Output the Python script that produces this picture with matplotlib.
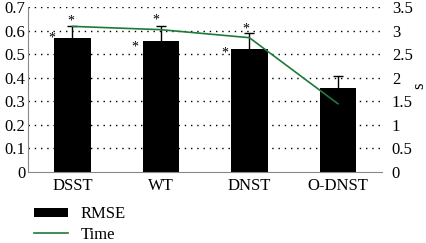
import numpy as np
import matplotlib.pyplot as plt

plt.rcParams["font.family"] = ["Liberation Serif", "DejaVu Serif"]

methods = ["DSST", "WT", "DNST", "O-DNST"]
rmse = [0.57, 0.556, 0.52, 0.355]
rmse_err = [0.05, 0.062, 0.068, 0.052]
time_s = [3.09, 3.02, 2.85, 1.45]

# significance stars: (category position, y value on left axis)
stars = [(-0.23, 0.57), (-0.02, 0.64), (0.71, 0.53), (0.94, 0.645), (1.72, 0.505), (1.955, 0.605)]

fig = plt.figure(figsize=(4.26, 2.43), dpi=100)
ax = fig.add_axes([0.066, 0.292, 0.831, 0.679])
x = np.arange(len(methods))

ax.set_ylim(0, 0.7)
ax.set_xlim(-0.5, len(methods) - 0.5)
ax.set_yticks(np.arange(0, 0.71, 0.1))
ax.set_yticklabels(["0", "0.1", "0.2", "0.3", "0.4", "0.5", "0.6", "0.7"])
for v in np.arange(0.1, 0.71, 0.1):
    ax.axhline(v, color="black", lw=1.0, ls=(0, (1, 3.5)), zorder=0)

ax.bar(x, rmse, width=0.41, color="black", zorder=2, label="RMSE")
ax.errorbar(x, rmse, yerr=rmse_err, fmt="none", ecolor="black", elinewidth=1.0,
            capsize=3.5, capthick=1.0, zorder=3)
for dx, dy in stars:
    ax.text(dx, dy, "*", ha="center", va="center", fontsize=10, zorder=4)

ax.set_xticks(x)
ax.set_xticklabels(methods)
ax.tick_params(axis="both", length=0, labelsize=12)
ax.tick_params(axis="y", pad=2)
ax.tick_params(axis="x", pad=4)
for s in ["top", "right"]:
    ax.spines[s].set_visible(False)
ax.spines["left"].set_color("#888888")
ax.spines["bottom"].set_color("#888888")

ax2 = ax.twinx()
ax2.plot(x, time_s, color="#1f7a3a", lw=1.2, label="Time", zorder=5)
ax2.set_ylim(0, 3.5)
ax2.set_yticks(np.arange(0, 3.51, 0.5))
ax2.set_yticklabels(["0", "0.5", "1", "1.5", "2", "2.5", "3", "3.5"])
ax2.tick_params(axis="y", length=0, labelsize=12, pad=7)
ax2.set_ylabel("s", fontsize=12, rotation=90, va="center")
ax2.yaxis.set_label_coords(1.105, 0.52)
for s in ["top", "right", "left", "bottom"]:
    ax2.spines[s].set_visible(False)

h1, l1 = ax.get_legend_handles_labels()
h2, l2 = ax2.get_legend_handles_labels()
fig.legend(h1 + h2, l1 + l2, loc="lower left", bbox_to_anchor=(0.045, -0.06),
           frameon=False, fontsize=12, handlelength=2.0, handleheight=0.5,
           labelspacing=0.25, handletextpad=0.8)

fig.savefig("out.png", dpi=100)
